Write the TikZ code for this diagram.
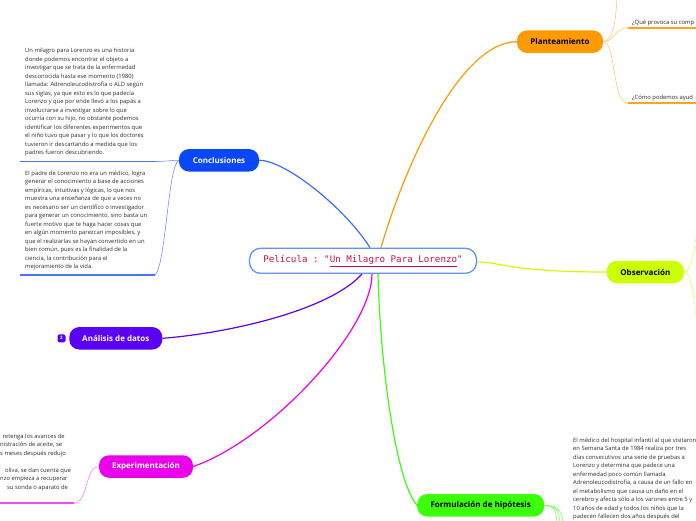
\documentclass[tikz,border=0pt]{standalone}
\usepackage{fontspec}
\setmainfont{Open Sans}
\setmonofont{DejaVu Sans Mono}
\usetikzlibrary{calc,backgrounds}

\definecolor{planfill}{RGB}{255,155,0}
\definecolor{planline}{RGB}{255,200,120}
\definecolor{obsfill}{RGB}{204,255,0}
\definecolor{obsline}{RGB}{230,255,140}
\definecolor{hypfill}{RGB}{60,255,10}
\definecolor{hypline}{RGB}{120,255,90}
\definecolor{expfill}{RGB}{235,0,235}
\definecolor{expline}{RGB}{255,120,255}
\definecolor{datafill}{RGB}{90,0,245}
\definecolor{concfill}{RGB}{10,70,250}
\definecolor{concline}{RGB}{110,145,255}
\definecolor{mainborder}{RGB}{100,145,255}
\definecolor{maintext}{RGB}{200,20,60}
\definecolor{notetext}{RGB}{45,45,45}

\begin{document}
\begin{tikzpicture}[x=1pt,y=-1pt,
	topic/.style={rounded corners=10pt,minimum height=22.5pt,inner sep=0pt,
		font=\fontsize{8}{9}\selectfont\bfseries},
	note/.style={align=left,inner sep=0pt,anchor=north west,text=notetext,
		font=\fontsize{5.85}{8.5}\selectfont},
	twig/.style={line width=0.6pt},
	uline/.style={line width=1.8pt},
	branch/.style={line width=1.2pt},
]
\useasboundingbox (0,0) rectangle (696,520);
\clip (0,0) rectangle (696,520);

% central topic
\node[draw=mainborder,line width=1.3pt,fill=white,rounded corners=11pt,
	minimum width=227pt,minimum height=25pt,inner sep=0pt,text=maintext,
	font=\ttfamily\fontsize{9.2}{10}\selectfont] (main) at (363,260.8)
	{Película : "\underline{Un Milagro Para Lorenzo}"};

% main topics
\node[topic,fill=planfill,minimum width=86pt] (plan) at (560,41.7) {Planteamiento};
\node[topic,fill=obsfill,minimum width=77pt] (obs) at (645.3,272) {Observación};
\node[topic,fill=hypfill,minimum width=127pt] (hyp) at (480.7,505.3) {Formulación de hipótesis};
\node[topic,fill=expfill,text=white,minimum width=94pt] (exp) at (146,466.5) {Experimentación};
\node[topic,fill=datafill,text=white,minimum width=93pt] (data) at (115.8,338.3) {Análisis de datos};
\node[topic,fill=concfill,text=white,minimum width=80pt] (concl) at (219,160.3) {Conclusiones};
\node[fill=datafill,rounded corners=1.5pt,minimum size=8pt,inner sep=0pt,text=white,
	font=\fontsize{4.5}{5}\selectfont\bfseries] (badge) at (61.5,338.3) {2};

% notes
\node[note] (c1) at (25,48.3) {Un milagro para Lorenzo es una historia\\
donde podemos encontrar el objeto a\\
investigar que se trata de la enfermedad\\
desconocida hasta ese momento (1980)\\
llamada: Adrenoleucodistrofia o ALD según\\
sus siglas, ya que esto es lo que padecía\\
Lorenzo y que por ende llevó a los papás a\\
involucrarse a investigar sobre lo que\\
ocurría con su hijo, no obstante podemos\\
identificar los diferentes experimentos que\\
el niño tuvo que pasar y lo que los doctores\\
tuvieron ir descartando a medida que los\\
padres fueron descubriendo.};
\node[note] (c2) at (25,170.8) {El padre de Lorenzo no era un médico, logra\\
generar el conocimiento a base de acciones\\
empíricas, intuitivas y lógicas, lo que nos\\
muestra una enseñanza de que a veces no\\
es necesario ser un científico o investigador\\
para generar un conocimiento, sino basta un\\
fuerte motivo que te haga hacer cosas que\\
en algún momento parezcan imposibles, y\\
que el realizarlas se hayan convertido en un\\
bien común, pues es la finalidad de la\\
ciencia, la contribución para el\\
mejoramiento de la vida.};
\node[note] (e1) at (0,433.8) {\hspace*{2.5pt}retenga los avances de\\
nistración de aceite, se\\
s meses después redujo\\
\\
\hspace*{5pt}oliva, se dan cuenta que\\
nzo empieza a recuperar\\
\hspace*{7pt}su sonda o aparato de};
\node[note] (h1) at (573,437.5) {El médico del hospital infantil al que visitaron\\
en Semana Santa de 1984 realiza por tres\\
días consecutivos una serie de pruebas a\\
Lorenzo y determina que padece una\\
enfermedad poco común llamada\\
Adrenoleucodistrofia, a causa de un fallo en\\
el metabolismo que causa un daño en el\\
cerebro y afecta sólo a los varones entre 5 y\\
10 años de edad y todos los niños que la\\
padecen fallecen dos años después del};
\node[note,anchor=base west] (p1) at (632,24) {¿Qué provoca su comp};
\node[note,anchor=base west] (p2) at (632,99) {¿Cómo podemos ayud};

% underline ends
\coordinate (u1a) at (20,161.5);  \coordinate (u1b) at (155,161.5);
\coordinate (u2a) at (20,275);    \coordinate (u2b) at (155,275);
\coordinate (u3a) at (-5,503.3);  \coordinate (u3b) at (74,503.3);
\coordinate (u4a) at (628,27.7);  \coordinate (u4b) at (700,27.7);
\coordinate (u5a) at (628,103.3); \coordinate (u5b) at (700,103.3);

\begin{pgfonlayer}{background}
% main branches
\draw[branch,planfill] ($(main.north)+(18,0)$) .. controls (405,165) and (460,42) .. (plan.west);
\draw[branch,concfill!80] (concl.east) .. controls (285,160) and (345,208) .. ($(main.north)+(7,0)$);
\draw[branch,obsfill] ($(main.east)+(0,1)$) .. controls (500,262) and (510,272) .. (obs.west);
\draw[branch,datafill] ($(main.south)+(-1,0)$) .. controls (330,310) and (230,333) .. (data.east);
\draw[branch,expfill] ($(main.south)+(9,0)$) .. controls (372,330) and (270,440) .. (exp.east);
\draw[branch,hypfill] ($(main.south)+(15,0)$) .. controls (380,360) and (395,480) .. (hyp.west);

% sub branches
\draw[twig,planline] (plan.east) .. controls (614,41.7) and (616,15) .. (617,-2);
\draw[twig,planline] (plan.east) .. controls (615,41.7) and (614,27.7) .. (u4a);
\draw[twig,planline] (plan.east) .. controls (616,41.7) and (612,103.3) .. (u5a);
\draw[uline,planfill!90] (u4a) -- (u4b);
\draw[uline,planfill!90] (u5a) -- (u5b);

\draw[twig,obsline] (obs.east) .. controls (692,272) and (694,250) .. (697,230);
\draw[twig,obsline] (obs.east) .. controls (690,272) and (692,255) .. (697,245);
\draw[twig,obsline] (obs.east) .. controls (690,272) and (692,290) .. (697,300);
\draw[twig,obsline] (obs.east) .. controls (692,272) and (694,300) .. (697,325);

\draw[twig,hypline] (hyp.east) .. controls (555,505.3) and (556,512) .. (557,522);
\draw[twig,hypline] (hyp.east) .. controls (557,505.3) and (559,512) .. (560,522);
\draw[twig,hypline] (hyp.east) .. controls (559,505.3) and (562,512) .. (563,522);

\draw[twig,concline] (concl.west) .. controls (170,160.3) and (165,161.5) .. (u1b);
\draw[twig,concline] (concl.west) .. controls (168,165) and (166,265) .. (u2b);
\draw[uline,concfill!75] (u1a) -- (u1b);
\draw[uline,concfill!75] (u2a) -- (u2b);

\draw[twig,expline] (exp.west) .. controls (85,466.5) and (88,503.3) .. (u3b);
\draw[uline,expfill!70] (u3a) -- (u3b);
\end{pgfonlayer}
\end{tikzpicture}
\end{document}
